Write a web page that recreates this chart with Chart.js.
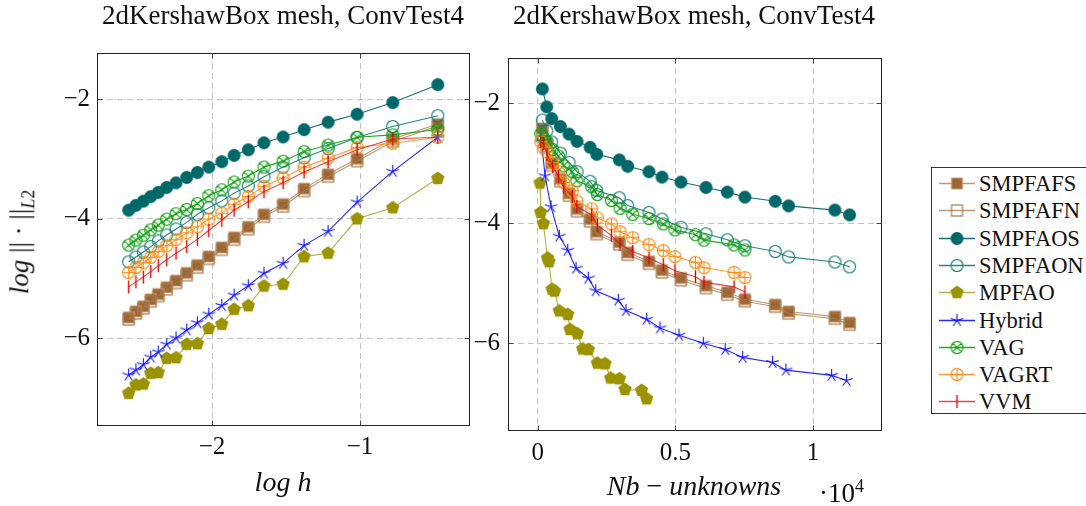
<!DOCTYPE html>
<html><head><meta charset="utf-8">
<script src="https://cdn.jsdelivr.net/npm/chart.js@4.4.1/dist/chart.umd.min.js"></script>
<style>
body{margin:0;background:#fff;width:1086px;height:506px;overflow:hidden;position:relative;font-family:"Liberation Serif",serif;color:#111}
canvas{position:absolute}
.t{position:absolute;white-space:nowrap;text-align:center;line-height:30px}
#legend{position:absolute;left:931px;top:167px;width:170px;height:247px;border:1px solid #333;box-sizing:border-box;background:#fff}
.row{position:absolute;left:0;height:27px;width:170px}
.row canvas{position:absolute;left:6px;top:3px}
.row span{position:absolute;left:47px;top:0;font-size:22.5px;line-height:27px;white-space:nowrap}
</style></head><body>
<canvas id="c1" width="480" height="506" style="left:0;top:0"></canvas>
<canvas id="c2" width="460" height="506" style="left:440px;top:0"></canvas>

<div class="t" style="left:0;top:0;width:566px;font-size:27px">2dKershawBox mesh, ConvTest4</div>
<div class="t" style="left:394px;top:0;width:600px;font-size:27px">2dKershawBox mesh, ConvTest4</div>
<div class="t" style="left:183px;top:467px;width:200px;font-size:28px"><i>log h</i></div>
<div class="t" style="left:24px;top:242px;font-size:27px;transform:translate(-50%,-50%) rotate(-90deg)"><i>log</i> || · ||<sub style="font-size:18px"><i>L</i>2</sub></div>
<div class="t" style="left:544px;top:471px;width:300px;font-size:28px"><i>Nb</i> − <i>unknowns</i></div>
<div class="t" style="left:819px;top:471px;font-size:27px">·10<sup style="font-size:18px">4</sup></div>
<div id="legend"></div>

<script>
// ---------- data ----------
const names = ['SMPFAFS','SMPFAFN','SMPFAOS','SMPFAON','MPFAO','Hybrid','VAG','VAGRT','VVM'];
// log h (same meshes for every scheme), ordered from coarse to fine
const logH = [-0.475,-0.779,-1.02,-1.216,-1.378,-1.52,-1.649,-1.755,-1.851,-1.934,-2.022,-2.099,-2.171,-2.243,-2.306,-2.363,-2.414,-2.464,-2.514,-2.563];
// number of unknowns per scheme family
const unkSMPFA  = [167,327,508,821,1137,1427,1899,2142,2963,3268,4041,4513,5203,6111,6885,7527,8627,9114,10795,11329];
const unkHybrid = [138,265,483,784,1089,1391,1837,2106,2927,3206,3958,4441,5131,6013,6812,7444,8533,9016,10675,11220];
const unkVAG    = [110,215,335,545,750,945,1255,1420,1960,2165,2675,2990,3450,4040,4560,4985,5730,6040,7130,7527];
const unkMPFAO  = [84,109,203,356,410,519,610,784,1089,1173,1438,1634,1837,2164,2444,2651,2970,3170,3776,3958];
// log of L2 error
const errSMPFAFS = [-2.42,-2.67,-3.0,-3.26,-3.50,-3.76,-3.93,-4.14,-4.315,-4.485,-4.635,-4.78,-4.91,-5.04,-5.15,-5.265,-5.355,-5.47,-5.555,-5.655];
const errSMPFAFN = [-2.45,-2.71,-3.04,-3.30,-3.54,-3.80,-3.97,-4.18,-4.355,-4.525,-4.675,-4.82,-4.95,-5.08,-5.19,-5.30,-5.39,-5.505,-5.59,-5.69];
const errSMPFAOS = [-1.76,-2.06,-2.255,-2.387,-2.513,-2.635,-2.733,-2.85,-2.943,-3.05,-3.14,-3.23,-3.313,-3.403,-3.48,-3.563,-3.633,-3.71,-3.78,-3.86];
const errSMPFAON = [-2.28,-2.46,-2.645,-2.83,-2.985,-3.14,-3.30,-3.455,-3.575,-3.705,-3.82,-3.93,-4.065,-4.175,-4.275,-4.375,-4.47,-4.56,-4.645,-4.725];
const errMPFAO   = [-3.33,-3.82,-4.005,-4.58,-4.64,-5.10,-5.13,-5.46,-5.52,-5.77,-5.84,-6.095,-6.105,-6.33,-6.34,-6.58,-6.59,-6.77,-6.785,-6.925];
const errHybrid  = [-2.64,-3.21,-3.725,-4.215,-4.45,-4.75,-4.915,-5.125,-5.283,-5.455,-5.60,-5.745,-5.865,-6.0,-6.103,-6.235,-6.32,-6.447,-6.535,-6.62];
const errVAG     = [-2.51,-2.60,-2.64,-2.77,-2.88,-3.04,-3.14,-3.29,-3.39,-3.52,-3.62,-3.75,-3.85,-3.92,-4.01,-4.11,-4.19,-4.28,-4.36,-4.445];
const errVAGRT   = [-2.64,-2.74,-2.81,-2.99,-3.14,-3.32,-3.46,-3.63,-3.76,-3.91,-4.01,-4.14,-4.24,-4.355,-4.455,-4.555,-4.65,-4.74,-4.82,-4.905];
const errVVM     = [-2.64,-2.67,-2.85,-3.05,-3.22,-3.40,-3.55,-3.72,-3.86,-4.03,-4.20,-4.35,-4.47,-4.58,-4.69,-4.79,-4.89,-4.98,-5.06,-5.145];
// ticks
const leftXTicks = [-2,-1];
const yTicks = [-6,-4,-2];
const rightXTicks = [0,5000,10000];
const rightXTickLabels = ['0','0.5','1'];

const errs = [errSMPFAFS,errSMPFAFN,errSMPFAOS,errSMPFAON,errMPFAO,errHybrid,errVAG,errVAGRT,errVVM];
const unks = [unkSMPFA,unkSMPFA,unkSMPFA,unkSMPFA,unkMPFAO,unkHybrid,unkVAG,unkVAG,unkVAG];

// ---------- styles ----------
function mk(draw){const s=17,c=document.createElement('canvas');c.width=c.height=s;const g=c.getContext('2d');g.translate(s/2,s/2);draw(g);return c;}
const brown='#9a6633', teal='#006868', teal2='#137a7a', olive='#9b9300', blue='#1010ff', green='#10a010', orange='#ff8a10', red='#d80000';
const markers = [
  mk(g=>{g.fillStyle=brown;g.fillRect(-5.5,-5.5,11,11);g.strokeStyle='#c9a27c';g.lineWidth=1;g.strokeRect(-5.5,-5.5,11,11);}),
  mk(g=>{g.strokeStyle='#a8784c';g.lineWidth=1.2;g.strokeRect(-5.5,-5.5,11,11);}),
  mk(g=>{g.fillStyle=teal;g.beginPath();g.arc(0,0,6.5,0,Math.PI*2);g.fill();}),
  mk(g=>{g.strokeStyle=teal2;g.lineWidth=1.1;g.beginPath();g.arc(0,0,6,0,Math.PI*2);g.stroke();}),
  mk(g=>{g.fillStyle=olive;g.beginPath();for(let k=0;k<5;k++){const a=-Math.PI/2+k*2*Math.PI/5;g.lineTo(7*Math.cos(a),7*Math.sin(a));}g.closePath();g.fill();}),
  mk(g=>{g.strokeStyle=blue;g.lineWidth=1.1;g.beginPath();for(let k=0;k<5;k++){const a=-Math.PI/2+k*2*Math.PI/5;g.moveTo(0,0);g.lineTo(6.5*Math.cos(a),6.5*Math.sin(a));}g.stroke();}),
  mk(g=>{g.strokeStyle=green;g.lineWidth=1.1;g.beginPath();g.arc(0,0,6,0,Math.PI*2);g.moveTo(-4.2,-4.2);g.lineTo(4.2,4.2);g.moveTo(4.2,-4.2);g.lineTo(-4.2,4.2);g.stroke();}),
  mk(g=>{g.strokeStyle=orange;g.lineWidth=1.1;g.beginPath();g.arc(0,0,6,0,Math.PI*2);g.moveTo(-6,0);g.lineTo(6,0);g.moveTo(0,-6);g.lineTo(0,6);g.stroke();}),
  mk(g=>{g.strokeStyle=red;g.lineWidth=1.4;g.beginPath();g.moveTo(0,-6.5);g.lineTo(0,6.5);g.stroke();})
];
const lineColors = ['rgba(170,120,70,0.75)','rgba(170,120,70,0.75)','#1a7070','#2a8686','rgba(160,150,20,0.75)','#2a2aff','#22aa22','rgba(255,140,30,0.85)','rgba(220,30,30,0.8)'];

// ---------- plugin: frame + inner ticks ----------
const framePlugin = {
  id:'frame',
  beforeDatasetsDraw(chart){
    const {ctx, chartArea:a, scales:{x,y}} = chart;
    const L=Math.round(a.left)+0.5, R=Math.round(a.right)+0.5, T=Math.round(a.top)+0.5, B=Math.round(a.bottom)+0.5;
    ctx.save();
    ctx.strokeStyle='#444'; ctx.lineWidth=1;
    ctx.beginPath();
    x.ticks.forEach(t=>{const p=Math.round(x.getPixelForValue(t.value))+0.5;ctx.moveTo(p,B);ctx.lineTo(p,B-5);ctx.moveTo(p,T);ctx.lineTo(p,T+5);});
    y.ticks.forEach(t=>{const p=Math.round(y.getPixelForValue(t.value))+0.5;ctx.moveTo(L,p);ctx.lineTo(L+5,p);ctx.moveTo(R,p);ctx.lineTo(R-5,p);});
    ctx.stroke();
    ctx.strokeStyle='#222'; ctx.lineWidth=1;
    ctx.strokeRect(L,T,R-L,B-T);
    ctx.restore();
  }
};

const tickFont = {family:"'Liberation Serif', serif", size:25};
const minus = v => (v<0?'\u2212':'')+Math.abs(v);

function makeChart(id, xs, xOpt, geo){
  const datasets = names.map((n,i)=>({
    label:n,
    data: errs[i].map((e,j)=>({x: xs[i][j], y: e})),
    borderColor: lineColors[i], backgroundColor: lineColors[i],
    borderWidth: 1.1, pointStyle: markers[i], pointRadius: 6,
    order: names.length - i, tension: 0
  }));
  return new Chart(document.getElementById(id), {
    type:'line',
    data:{datasets},
    options:{
      responsive:false, animation:false, devicePixelRatio:1,
      layout:{padding:{left:0, top:geo.top, right:geo.right, bottom:0}},
      plugins:{legend:{display:false}, tooltip:{enabled:false}, title:{display:false}},
      scales:{
        x:{type:'linear', min:xOpt.min, max:xOpt.max,
           afterBuildTicks:s=>{s.ticks = xOpt.ticks.map(v=>({value:v}));},
           afterFit:s=>{s.height = geo.xh;},
           grid:{color:'#c4c4c4', lineWidth:1, drawTicks:false},
           border:{display:false, dash:[6,4]},
           ticks:{font:tickFont, color:'#111', padding:geo.xpad, maxRotation:0, callback:xOpt.fmt}},
        y:{type:'linear', min:geo.ymin, max:geo.ymax,
           afterBuildTicks:s=>{s.ticks = yTicks.map(v=>({value:v}));},
           afterFit:s=>{s.width = geo.yw;},
           grid:{color:'#c4c4c4', lineWidth:1, drawTicks:false},
           border:{display:false, dash:[6,4]},
           ticks:{font:tickFont, color:'#111', padding:geo.ypad, callback:v=>minus(v)}}
      }
    },
    plugins:[framePlugin]
  });
}

makeChart('c1', names.map(()=>logH),
  {min:-2.777, max:-0.264, ticks:leftXTicks, fmt:v=>minus(v)},
  {top:53, right:11, xh:81, yw:97, xpad:7, ypad:7, ymin:-7.456, ymax:-1.23});

makeChart('c2', unks,
  {min:-1080, max:12470, ticks:rightXTicks, fmt:v=>rightXTickLabels[rightXTicks.indexOf(v)]},
  {top:58, right:19, xh:76, yw:68, xpad:8, ypad:8, ymin:-7.445, ymax:-1.245});

// ---------- legend ----------
const lg = document.getElementById('legend');
names.forEach((n,i)=>{
  const row=document.createElement('div'); row.className='row'; row.style.top=(2+i*27.3)+'px';
  const c=document.createElement('canvas'); c.width=40; c.height=20;
  const g=c.getContext('2d'); g.strokeStyle=lineColors[i]; g.lineWidth=1.3;
  g.beginPath(); g.moveTo(1,10.5); g.lineTo(37,10.5); g.stroke();
  g.drawImage(markers[i], 19-8.5, 10.5-8.5);
  const s=document.createElement('span'); s.textContent=n;
  row.appendChild(c); row.appendChild(s); lg.appendChild(row);
});
</script>
</body></html>
